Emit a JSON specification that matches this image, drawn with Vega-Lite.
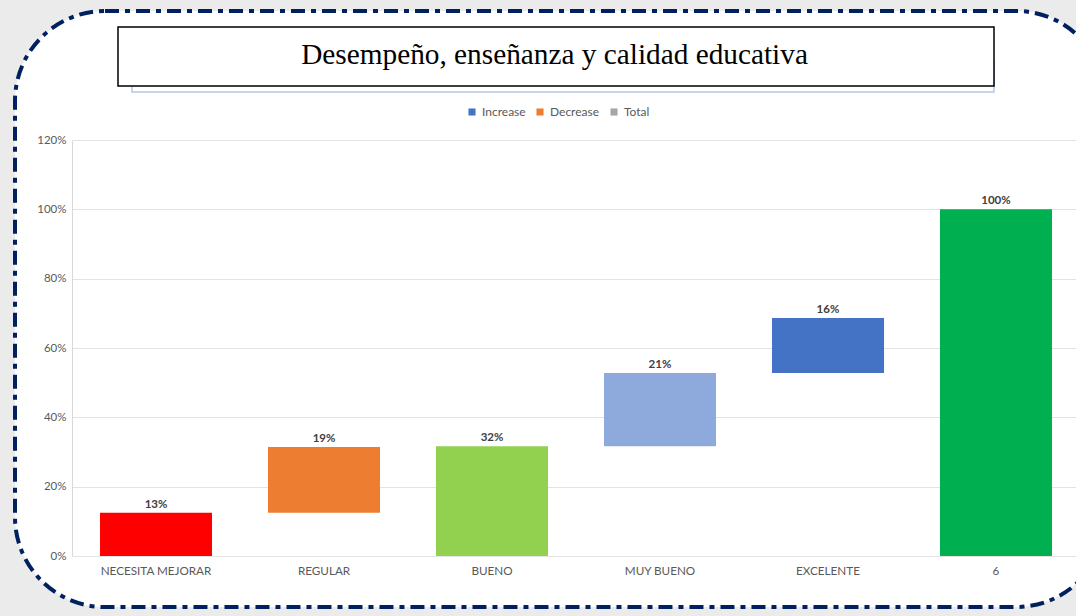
{
  "$schema": "https://vega.github.io/schema/vega-lite/v6.json",
  "width": 1091,
  "height": 596,
  "autosize": {"type": "none"},
  "padding": {"left": 15, "top": 11, "right": -30, "bottom": 9},
  "background": "#ebebeb",
  "view": {"stroke": "#002060", "strokeWidth": 4, "strokeDash": [14, 6, 5, 6], "cornerRadius": 90, "fill": "#ffffff", "fillOpacity": 1},
  "title": {
    "text": "Desempeño, enseñanza y calidad educativa",
    "font": "Liberation Serif",
    "fontSize": 29.3,
    "fontWeight": "normal",
    "color": "#000000",
    "anchor": "middle",
    "frame": "group",
    "baseline": "alphabetic",
    "offset": -82,
    "dx": -6
  },
  "datasets": {
    "barras": [
      {"cat": "NECESITA MEJORAR", "inicio": 0, "fin": 0.125, "valor": 0.13},
      {"cat": "REGULAR", "inicio": 0.125, "fin": 0.3145, "valor": 0.19},
      {"cat": "BUENO", "inicio": 0, "fin": 0.3165, "valor": 0.32},
      {"cat": "MUY BUENO", "inicio": 0.3165, "fin": 0.528, "valor": 0.21},
      {"cat": "EXCELENTE", "inicio": 0.528, "fin": 0.6865, "valor": 0.16},
      {"cat": "6", "inicio": 0, "fin": 1.0, "valor": 1.0}
    ],
    "leyenda": [{"tipo": "Increase"}, {"tipo": "Decrease"}, {"tipo": "Total"}]
  },
  "layer": [
    {
      "data": {"name": "barras"},
      "mark": {"type": "bar"},
      "encoding": {
        "x": {
          "field": "cat", "type": "nominal", "sort": null,
          "scale": {"range": [57, 1065], "paddingInner": 0.3333, "paddingOuter": 0.1667},
          "axis": {"title": null, "orient": "bottom", "offset": -51, "domain": false, "ticks": false, "labelPadding": 9, "labelFont": "Lato", "labelFontSize": 11.7, "labelColor": "#595959", "labelAngle": 0, "grid": false}
        },
        "y": {
          "field": "inicio", "type": "quantitative",
          "scale": {"domain": [0, 1.2], "range": [545, 129], "nice": false},
          "axis": {"title": null, "orient": "left", "offset": -57, "values": [0, 0.2, 0.4, 0.6, 0.8, 1.0, 1.2], "format": ".0%", "domain": true, "domainColor": "#d9d9d9", "ticks": false, "labelPadding": 6, "labelFont": "Lato", "labelFontSize": 11.5, "labelColor": "#595959", "grid": true, "gridColor": "#e3e3e3"}
        },
        "y2": {"field": "fin"},
        "fill": {
          "field": "cat", "type": "nominal", "legend": null,
          "scale": {
            "domain": ["NECESITA MEJORAR", "REGULAR", "BUENO", "MUY BUENO", "EXCELENTE", "6"],
            "range": ["#FF0000", "#ED7D31", "#92D050", "#8EA9DB", "#4472C4", "#00B050"]
          }
        }
      }
    },
    {
      "data": {"name": "barras"},
      "mark": {"type": "text", "baseline": "bottom", "dy": -3, "font": "Lato", "fontWeight": "bold", "fontSize": 11.5, "color": "#404040"},
      "encoding": {
        "x": {"field": "cat", "type": "nominal", "sort": null},
        "y": {"field": "fin", "type": "quantitative"},
        "text": {"field": "valor", "type": "quantitative", "format": ".0%"}
      }
    },
    {
      "data": {"values": [{}]},
      "mark": {"type": "rect", "width": 862, "xOffset": -543, "filled": false, "stroke": "#b4c7e7", "strokeWidth": 1.5},
      "encoding": {
        "y": {"datum": 1.43, "type": "quantitative"},
        "y2": {"datum": 1.3385}
      }
    },
    {
      "data": {"values": [{}]},
      "mark": {"type": "rect", "width": 876, "xOffset": -550, "fill": "#ffffff", "stroke": "#000000", "strokeWidth": 1.5},
      "encoding": {
        "y": {"datum": 1.526, "type": "quantitative"},
        "y2": {"datum": 1.356}
      }
    },
    {
      "data": {"name": "leyenda"},
      "mark": {"type": "point", "filled": true, "opacity": 0},
      "encoding": {
        "color": {
          "field": "tipo", "type": "nominal", "sort": null,
          "scale": {"domain": ["Increase", "Decrease", "Total"], "range": ["#4472C4", "#ED7D31", "#A5A5A5"]},
          "legend": {"orient": "none", "legendX": 451, "legendY": 95, "direction": "horizontal", "title": null, "symbolType": "square", "symbolSize": 50, "symbolOpacity": 1, "symbolStrokeWidth": 0, "labelFont": "Lato", "labelFontSize": 12, "labelColor": "#595959", "columnPadding": 8, "labelOffset": 4}
        }
      }
    }
  ]
}
